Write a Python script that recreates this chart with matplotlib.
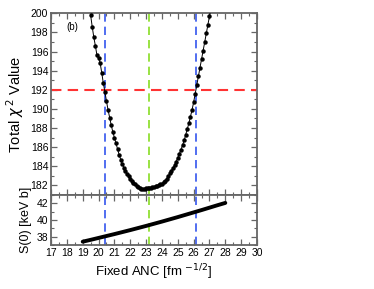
import matplotlib
matplotlib.use("Agg")
import matplotlib.pyplot as plt
from matplotlib.ticker import MultipleLocator

plt.rcParams['font.family'] = ['Liberation Sans', 'DejaVu Sans']

# ---- data ----
anc = [19.5, 19.6, 19.7, 19.8, 19.9, 20.0, 20.1, 20.2, 20.3, 20.4,
       20.5, 20.6, 20.7, 20.8, 20.9, 21.0, 21.1, 21.2, 21.3, 21.4,
       21.5, 21.6, 21.7, 21.8, 21.9, 22.0, 22.1, 22.2, 22.3, 22.4,
       22.5, 22.6, 22.7, 22.8, 22.9, 23.0, 23.1, 23.2, 23.3, 23.4,
       23.5, 23.6, 23.7, 23.8, 23.9, 24.0, 24.1, 24.2, 24.3, 24.4,
       24.5, 24.6, 24.7, 24.8, 24.9, 25.0, 25.1, 25.2, 25.3, 25.4,
       25.5, 25.6, 25.7, 25.8, 25.9, 26.0, 26.1, 26.2, 26.3, 26.4,
       26.5, 26.6, 26.7, 26.8, 26.9, 27.0, 27.1]
chi2 = [199.8, 198.6, 197.5, 196.6, 195.6, 195.3, 194.8, 193.8, 192.7, 191.8,
        190.8, 189.9, 189.1, 188.3, 187.6, 187.0, 186.4, 185.8, 185.2, 184.7,
        184.25, 183.85, 183.5, 183.2, 182.95, 182.7, 182.5, 182.3, 182.1, 181.95,
        181.82, 181.72, 181.66, 181.64, 181.65, 181.68, 181.7, 181.73, 181.76, 181.8,
        181.85, 181.9, 181.97, 182.05, 182.12, 182.2, 182.35, 182.5, 182.7, 182.95,
        183.25, 183.55, 183.85, 184.15, 184.5, 184.9, 185.3, 185.75, 186.2, 186.7,
        187.3, 187.9, 188.5, 189.2, 189.9, 190.7, 191.6, 192.5, 193.4, 194.3,
        195.2, 196.1, 197.0, 197.9, 198.8, 199.7, 200.6]

anc_s = [19.0, 19.5, 20.0, 20.5, 21.0, 21.5, 22.0, 22.5, 23.0, 23.5,
         24.0, 24.5, 25.0, 25.5, 26.0, 26.5, 27.0, 27.5, 28.0]
s0 = [37.40, 37.62, 37.85, 38.08, 38.31, 38.55, 38.79, 39.04, 39.29, 39.55,
      39.81, 40.08, 40.35, 40.63, 40.91, 41.19, 41.48, 41.77, 42.05]

chi2_limit = 192.0
anc_low, anc_best, anc_high = 20.4, 23.2, 26.13

xticks = list(range(17, 31))

# ---- figure ----
fig = plt.figure(figsize=(3.74, 2.89), dpi=100)
ax1 = fig.add_axes([0.1364, 0.3253, 0.5508, 0.6287])
ax2 = fig.add_axes([0.1364, 0.1522, 0.5508, 0.1731], sharex=ax1)

spine_c = '#666666'
for ax in (ax1, ax2):
    for s in ax.spines.values():
        s.set_color(spine_c)
        s.set_linewidth(1.3)
    ax.tick_params(which='both', direction='in', top=True, right=True,
                   color=spine_c, labelsize=7.5, pad=2)
    ax.tick_params(which='major', length=4, width=0.9)
    ax.tick_params(which='minor', length=2.5, width=0.8)
    ax.xaxis.set_major_locator(MultipleLocator(1))
    ax.xaxis.set_minor_locator(MultipleLocator(0.5))
    for xv, c in ((anc_low, '#3355ee'), (anc_best, '#88dd22'), (anc_high, '#3355ee')):
        ax.axvline(xv, color=c, lw=1.2, ls=(0, (5, 3)), zorder=1)

ax1.plot(anc, chi2, color='black', lw=0.7, marker='o', ms=2.2, zorder=3)
ax1.axhline(chi2_limit, color='#ff3333', lw=1.5, ls=(0, (5, 3)), zorder=2)
ax1.set_xlim(17, 30)
ax1.set_ylim(181, 200)
ax1.yaxis.set_major_locator(MultipleLocator(2))
ax1.yaxis.set_minor_locator(MultipleLocator(1))
ax1.tick_params(labelbottom=False)
ax1.set_ylabel('Total $\\chi^{\\,2}$ Value', fontsize=10.5, labelpad=3)
ax1.text(18.0, 198.3, '(b)', fontsize=7)

ax2.plot(anc_s, s0, color='black', lw=2.8, solid_capstyle='round', zorder=3)
ax2.set_ylim(37, 43)
ax2.yaxis.set_major_locator(MultipleLocator(2))
ax2.yaxis.set_minor_locator(MultipleLocator(1))
ax2.set_xticks(xticks)
ax2.set_xticklabels([str(t) for t in xticks])
ax2.set_ylabel('S(0) [keV b]', fontsize=9, labelpad=3)
ax2.set_xlabel('Fixed ANC [fm $^{-1/2}$]', fontsize=9.5, labelpad=3)

fig.savefig('out.png', dpi=100)
